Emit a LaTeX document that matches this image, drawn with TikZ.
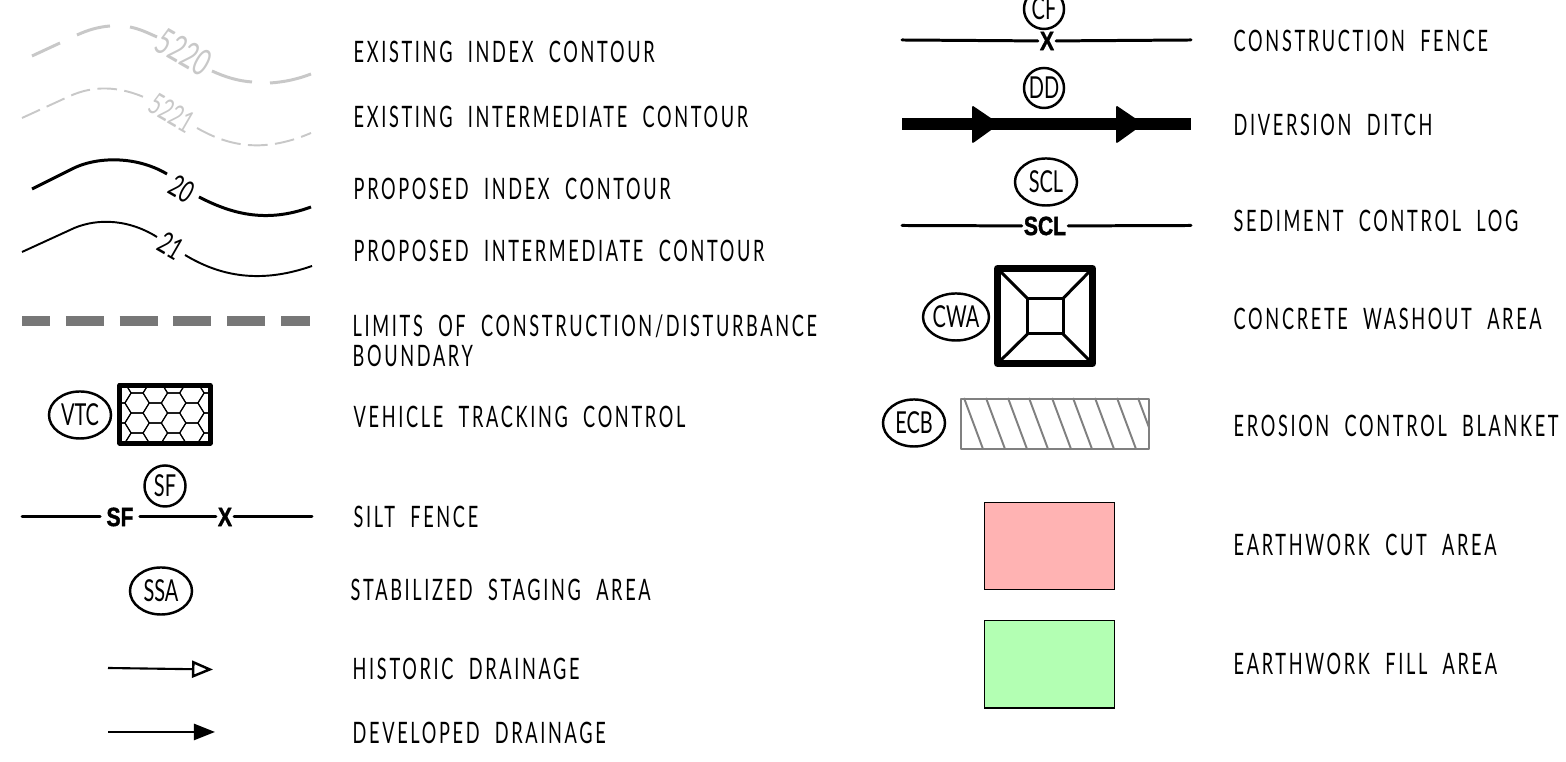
\documentclass[tikz,border=0pt]{standalone}
\usepackage{fontspec}
\usetikzlibrary{arrows.meta,shapes.geometric}
\newfontfamily\cadfont[LetterSpace=9,FakeStretch=0.615,WordSpace=2.1]{Lato}
\newfontfamily\tagfont[FakeStretch=0.66]{Lato}
\newfontfamily\markfont[FakeStretch=0.8,FakeBold=1.5]{Liberation Sans Bold}
\definecolor{exgray}{HTML}{C8C8C8}
\definecolor{limgray}{HTML}{777777}
\definecolor{ecbgray}{HTML}{808080}
\definecolor{cutred}{HTML}{FFB3B3}
\definecolor{fillgreen}{HTML}{B3FFB3}
\tikzset{
lab/.style={anchor=base west,inner sep=0pt,align=left,font=\fontsize{8.4}{8.8}\selectfont\cadfont},
tagoval/.style={draw,line width=.7pt,ellipse,inner sep=0pt,minimum width=.62cm,minimum height=.47cm,font=\fontsize{8.6}{8.6}\selectfont\tagfont},
tagcirc/.style={draw,line width=.7pt,circle,inner sep=0pt,minimum size=.4cm,font=\fontsize{8.6}{8.6}\selectfont\tagfont},
fencemark/.style={inner sep=.4pt,font=\fontsize{7.5}{7.5}\selectfont\markfont},
fence/.style={line width=.85pt,line cap=round},
contour/.style={rotate=-30,inner sep=0pt,font=\fontsize{8.6}{8.6}\selectfont\tagfont},
exindex/.style={color=exgray,line width=.85pt},
exinter/.style={color=exgray,line width=.55pt,dash pattern=on 5.6pt off 2.1pt},
prindex/.style={line width=.85pt},
printer/.style={line width=.55pt},
areabox/.style={draw,line width=.3pt,minimum width=1.29cm,minimum height=.87cm,inner sep=0pt}
}
\begin{document}
\begin{tikzpicture}[x=.01cm,y=-.01cm]
\useasboundingbox (0,0) rectangle (1566,762);

% contours
\draw[exindex] (32,56)--(60,43) (77,35) .. controls (88,30) and (98,27) .. (110,26) (130,27) .. controls (140,29) and (148,33) .. (157,37) (212,71) .. controls (225,77) and (238,81) .. (252,82) (270,83) .. controls (285,82) and (298,79) .. (311,74);
\node[contour,color=exgray,font=\fontsize{10.5}{10.5}\selectfont\tagfont] (lab5220) at (184,52) {5220};
\draw[exinter] (22,118)--(70,96) .. controls (92,86) and (118,85) .. (148,99);
\draw[exinter] (197,128) .. controls (225,144) and (260,155) .. (311,133);
\node[contour,color=exgray] (lab5221) at (172,113) {5221};
\draw[prindex] (32,189)--(72,169) .. controls (95,157) and (135,155) .. (167,174);
\draw[prindex] (199,197) .. controls (230,213) and (265,224) .. (311,207);
\node[contour] (lab20) at (182,189) {20};
\draw[printer] (22,252)--(70,230) .. controls (92,219) and (125,217) .. (157,237);
\draw[printer] (185,255) .. controls (215,273) and (255,286) .. (312,266);
\node[contour] (lab21) at (171,246) {21};

\draw[color=limgray,line width=2.83pt,dash pattern=on 10.8pt off 4.5pt,dash phase=2.83pt] (22,321)--(310,321);

% vehicle tracking
\node[tagoval] (vtc) at (80,415) {VTC};
\begin{scope}
\clip (118,384) rectangle (212,445);
\foreach \x/\y in {119/393,119/413,119/433,137/403,137/423,137/443,137/383,155.3/393,155.3/413,155.3/433,173.6/403,173.6/423,173.6/443,173.6/383,192/393,192/413,192/433,210/403,210/423,210/443,210/383}
{
\draw[line width=.3pt] (\x-12.2,\y)--(\x-6,\y-10)--(\x+6,\y-10)--(\x+12.2,\y)--(\x+6,\y+10)--(\x-6,\y+10)--cycle;
}
\end{scope}
\draw[line width=1.15pt,line join=round] (119.5,385.5) rectangle (210.5,443.5);

% silt fence
\node[tagcirc,minimum size=.41cm] (sf) at (165,486) {SF};
\coordinate (sfa) at (22,517);
\coordinate (sfb) at (312,517);
\node[fencemark,inner sep=1.6pt] (sfmark) at (120,517) {SF};
\node[fencemark] (sfx) at (225,517) {X};
\draw[fence] (sfa)--(sfmark);
\draw[fence] (sfmark)--(sfx);
\draw[fence] (sfx)--(sfb);

\node[tagoval] (ssa) at (161,591) {SSA};

\coordinate (hista) at (108,668);
\coordinate (histb) at (213,669.5);
\draw[line width=.6pt,-{Triangle[open,length=.21cm,width=.17cm,line width=.7pt]}] (hista)--(histb);
\coordinate (deva) at (108,732);
\coordinate (devb) at (215,732);
\draw[line width=.7pt,-{Triangle[length=.21cm,width=.16cm]}] (deva)--(devb);

% right column symbols
\node[tagcirc] (cf) at (1044,9) {CF};
\coordinate (cfa) at (902,40);
\coordinate (cfb) at (1191,40);
\node[fencemark] (cfx) at (1047,41) {X};
\draw[fence] (cfa)--(cfx);
\draw[fence] (cfx)--(cfb);

\node[tagcirc] (dd) at (1044,88) {DD};
\coordinate (dda) at (902,124);
\coordinate (ddb) at (1191,124);
\draw[line width=3.5pt] (dda)--(ddb);
\fill[line join=round,draw,line width=.5pt] (973,107)--(973,142)--(998,124)--cycle;
\fill[line join=round,draw,line width=.5pt] (1117,107)--(1117,142)--(1142,124)--cycle;

\node[tagoval] (scl) at (1046,182) {SCL};
\coordinate (scla) at (902,225.5);
\coordinate (sclb) at (1191,225.5);
\node[fencemark] (sclmark) at (1045,226) {SCL};
\draw[fence] (scla)--(sclmark);
\draw[fence] (sclmark)--(sclb);

\node[tagoval] (cwa) at (956,317) {CWA};
\draw[line width=2pt,line join=round] (997.5,268.5) rectangle (1092.5,363.5);
\draw[line width=.85pt] (1027.5,298.5) rectangle (1063,334);
\draw[line width=.85pt] (997.5,268.5)--(1027.5,298.5) (1092.5,268.5)--(1063,298.5) (997.5,363.5)--(1027.5,334) (1092.5,363.5)--(1063,334);

\node[tagoval] (ecb) at (914,423) {ECB};
\begin{scope}
\clip (960,398) rectangle (1149,449);
\foreach \x in {964,986,1008,1029,1052,1073,1095,1117,1138}
{
\draw[color=ecbgray,line width=.55pt] (\x,398)--(\x+19,449);
}
\end{scope}
\draw[color=ecbgray,line width=.6pt,line join=round] (961,399) rectangle (1149,449);

\node[areabox,fill=cutred] (cutbox) at (1049.5,546) {};
\node[areabox,fill=fillgreen] (fillbox) at (1049.5,664.5) {};

% labels
\node[lab] (t1) at (353,63) {EXISTING INDEX CONTOUR};
\node[lab] (t2) at (353,128) {EXISTING INTERMEDIATE CONTOUR};
\node[lab] (t3) at (353,200) {PROPOSED INDEX CONTOUR};
\node[lab] (t4) at (353,262) {PROPOSED INTERMEDIATE CONTOUR};
\node[lab] (t5) at (352,367) {LIMITS OF CONSTRUCTION/DISTURBANCE\\BOUNDARY};
\node[lab] (t6) at (353,428) {VEHICLE TRACKING CONTROL};
\node[lab] (t7) at (353,528) {SILT FENCE};
\node[lab] (t8) at (350,601) {STABILIZED STAGING AREA};
\node[lab] (t9) at (352,680) {HISTORIC DRAINAGE};
\node[lab] (t10) at (352,744) {DEVELOPED DRAINAGE};
\node[lab] (t11) at (1233,52) {CONSTRUCTION FENCE};
\node[lab] (t12) at (1233,136) {DIVERSION DITCH};
\node[lab] (t13) at (1233,232) {SEDIMENT CONTROL LOG};
\node[lab] (t14) at (1233,330) {CONCRETE WASHOUT AREA};
\node[lab] (t15) at (1233,437) {EROSION CONTROL BLANKET};
\node[lab] (t16) at (1233,556) {EARTHWORK CUT AREA};
\node[lab] (t17) at (1233,675) {EARTHWORK FILL AREA};
\end{tikzpicture}
\end{document}
